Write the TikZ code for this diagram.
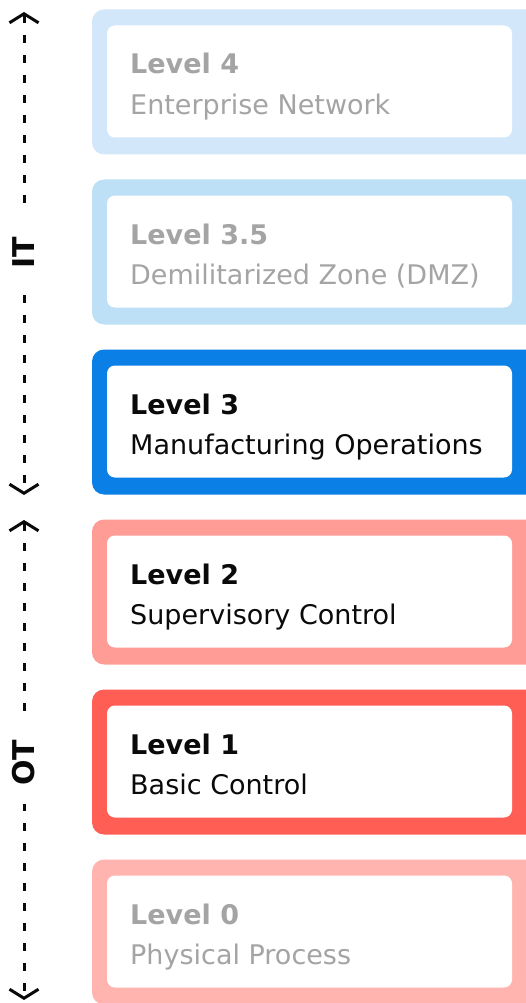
\documentclass[tikz,border=0pt]{standalone}
\usepackage{fontspec}
\setmainfont{DejaVu Sans}
\usepackage{xcolor}
\usetikzlibrary{arrows.meta}

\definecolor{lvfour}{HTML}{D3E7FA}
\definecolor{lvdmz}{HTML}{BEE0F6}
\definecolor{lvthree}{HTML}{0A7FE6}
\definecolor{lvtwo}{HTML}{FF9C96}
\definecolor{lvone}{HTML}{FF5E55}
\definecolor{lvzero}{HTML}{FFB4AF}
\definecolor{muted}{HTML}{A4A4A4}
\definecolor{ink}{HTML}{0A0A0A}

\begin{document}
\begin{tikzpicture}[x=1pt,y=-1pt,line join=round,
  >={Straight Barb[length=9pt,width=29pt,line width=3pt]},
  band/.style={draw=none,rounded corners=12pt,minimum width=448pt,minimum height=145pt,
    anchor=north west,inner sep=0pt,outer sep=0pt},
  card/.style={fill=white,rounded corners=8pt,minimum width=405pt,minimum height=112pt,
    anchor=north west,inner sep=0pt,outer sep=0pt},
  title/.style={anchor=base west,inner sep=0pt,font=\bfseries\fontsize{27}{30}\selectfont},
  sub/.style={anchor=base west,inner sep=0pt,font=\fontsize{27}{30}\selectfont},
  axis/.style={line width=3pt,dash pattern=on 8pt off 12pt,ink},
  side/.style={fill=white,rotate=90,inner sep=0pt,minimum width=82pt,minimum height=30pt,
    text=ink,font=\bfseries\fontsize{30}{34}\selectfont}]
  \useasboundingbox (0,0) rectangle (525,1003);
%%
  % Node: l4
  \node[band,fill=lvfour] (l4) at (92,9.5) {};
  \node[card] (l4card) at (107,25.5) {};
  \node[title,text=muted] (l4title) at (130,74) {Level 4};
  \node[sub,text=muted] (l4sub) at (130,114.5) {Enterprise Network};
  % Node: l35
  \node[band,fill=lvdmz] (l35) at (92,179.5) {};
  \node[card] (l35card) at (107,195.5) {};
  \node[title,text=muted] (l35title) at (130,244) {Level 3.5};
  \node[sub,text=muted] (l35sub) at (130,284.5) {Demilitarized Zone (DMZ)};
  % Node: l3
  \node[band,fill=lvthree] (l3) at (92,349.5) {};
  \node[card] (l3card) at (107,365.5) {};
  \node[title,text=ink] (l3title) at (130,414) {Level 3};
  \node[sub,text=ink] (l3sub) at (130,454.5) {Manufacturing Operations};
  % Node: l2
  \node[band,fill=lvtwo] (l2) at (92,519.5) {};
  \node[card] (l2card) at (107,535.5) {};
  \node[title,text=ink] (l2title) at (130,584) {Level 2};
  \node[sub,text=ink] (l2sub) at (130,624.5) {Supervisory Control};
  % Node: l1
  \node[band,fill=lvone] (l1) at (92,689.5) {};
  \node[card] (l1card) at (107,705.5) {};
  \node[title,text=ink] (l1title) at (130,754) {Level 1};
  \node[sub,text=ink] (l1sub) at (130,794.5) {Basic Control};
  % Node: l0
  \node[band,fill=lvzero] (l0) at (92,859.5) {};
  \node[card] (l0card) at (107,875.5) {};
  \node[title,text=muted] (l0title) at (130,924) {Level 0};
  \node[sub,text=muted] (l0sub) at (130,964.5) {Physical Process};
%%
  % Edge: IT span
  \coordinate (ittop) at (24,12);
  \coordinate (itbot) at (24,495);
  \draw[axis,<->] (ittop) -- (itbot);
  \node[side] (it) at (24,253) {IT};
  % Edge: OT span
  \coordinate (ottop) at (24,520);
  \coordinate (otbot) at (24,1000);
  \draw[axis,<->] (ottop) -- (otbot);
  \node[side] (ot) at (24,763) {OT};
%
\end{tikzpicture}
\end{document}
